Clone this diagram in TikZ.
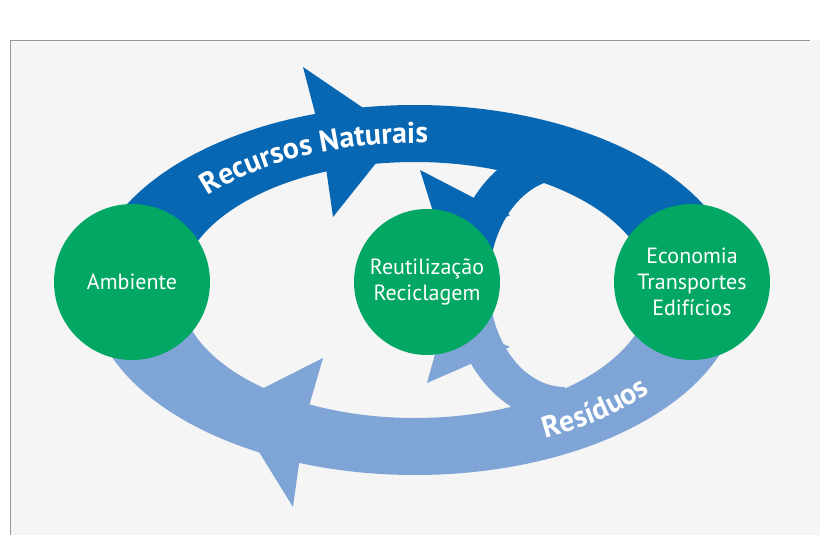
\documentclass[tikz,border=0pt]{standalone}
\usepackage{fontspec}
\setmainfont{PT Sans}
\usetikzlibrary{decorations.text}
\definecolor{dkb}{HTML}{0867B3}
\definecolor{ltb}{HTML}{7FA4D6}
\definecolor{grn}{HTML}{02A764}
\definecolor{bg}{HTML}{F5F5F5}
\tikzset{
  circ/.style={circle,fill=grn,minimum size=156pt,inner sep=0pt,text=white,font=\fontsize{22}{26}\selectfont,align=center},
}
\begin{document}
\begin{tikzpicture}[x=1pt,y=-1pt]
\useasboundingbox (0,0) rectangle (820,535);
\fill[white] (0,0) rectangle (820,535);
\fill[bg] (10,40) rectangle (820,535);
\draw[gray!80,line width=0.8pt] (10,535) -- (10,40) -- (810,40);
% big band
\begin{scope}
\clip (0,0) rectangle (820,288);
\fill[dkb,even odd rule] (415,290) ellipse [x radius=325,y radius=185] (415,290) ellipse [x radius=235,y radius=128];
\end{scope}
\begin{scope}
\clip (0,288) rectangle (820,535);
\fill[ltb,even odd rule] (415,290) ellipse [x radius=325,y radius=185] (415,290) ellipse [x radius=235,y radius=128];
\end{scope}
% small loop
\begin{scope}
\clip (415,290) ellipse [x radius=236,y radius=129];
\begin{scope}
\clip (0,0) rectangle (565,286);
\fill[dkb,even odd rule] (565,283) ellipse [x radius=115,y radius=140] (565,283) ellipse [x radius=76,y radius=104];
\end{scope}
\begin{scope}
\clip (0,286) rectangle (565,535);
\fill[ltb,even odd rule] (565,283) ellipse [x radius=115,y radius=140] (565,283) ellipse [x radius=76,y radius=104];
\end{scope}
\end{scope}
% arrowheads
\fill[dkb] (303,67) -- (400,133) -- (333,217) -- (322,140) -- cycle;
\fill[ltb] (323,358) -- (305,420) -- (293,507) -- (230,405) -- cycle;
\fill[dkb] (420,170) -- (478,200) -- (510,215) -- (445,250) -- cycle;
\fill[ltb] (510,347) -- (475,362) -- (427,383) -- (445,318) -- cycle;
% circles
\node[circ] (amb) at (132,282) {Ambiente};
\node[circ,minimum size=146pt] (reu) at (427,282) {Reutilização\\Reciclagem};
\node[circ] (eco) at (692,282) {Economia\\Transportes\\Edifícios};
% curved labels
\path[decorate,decoration={text along path,text align=center,
  text={|\fontsize{30}{30}\selectfont\bfseries\color{white}|Recursos Naturais}}]
  (415,290) ++(207:270 and 147) arc[start angle=207,end angle=282,x radius=270,y radius=147];
\path[decorate,decoration={text along path,text align=center,
  text={|\fontsize{30}{30}\selectfont\bfseries\color{white}|Resíduos}}]
  (415,290) ++(72:300 and 165) arc[start angle=72,end angle=28,x radius=300,y radius=165];
\end{tikzpicture}
\end{document}
